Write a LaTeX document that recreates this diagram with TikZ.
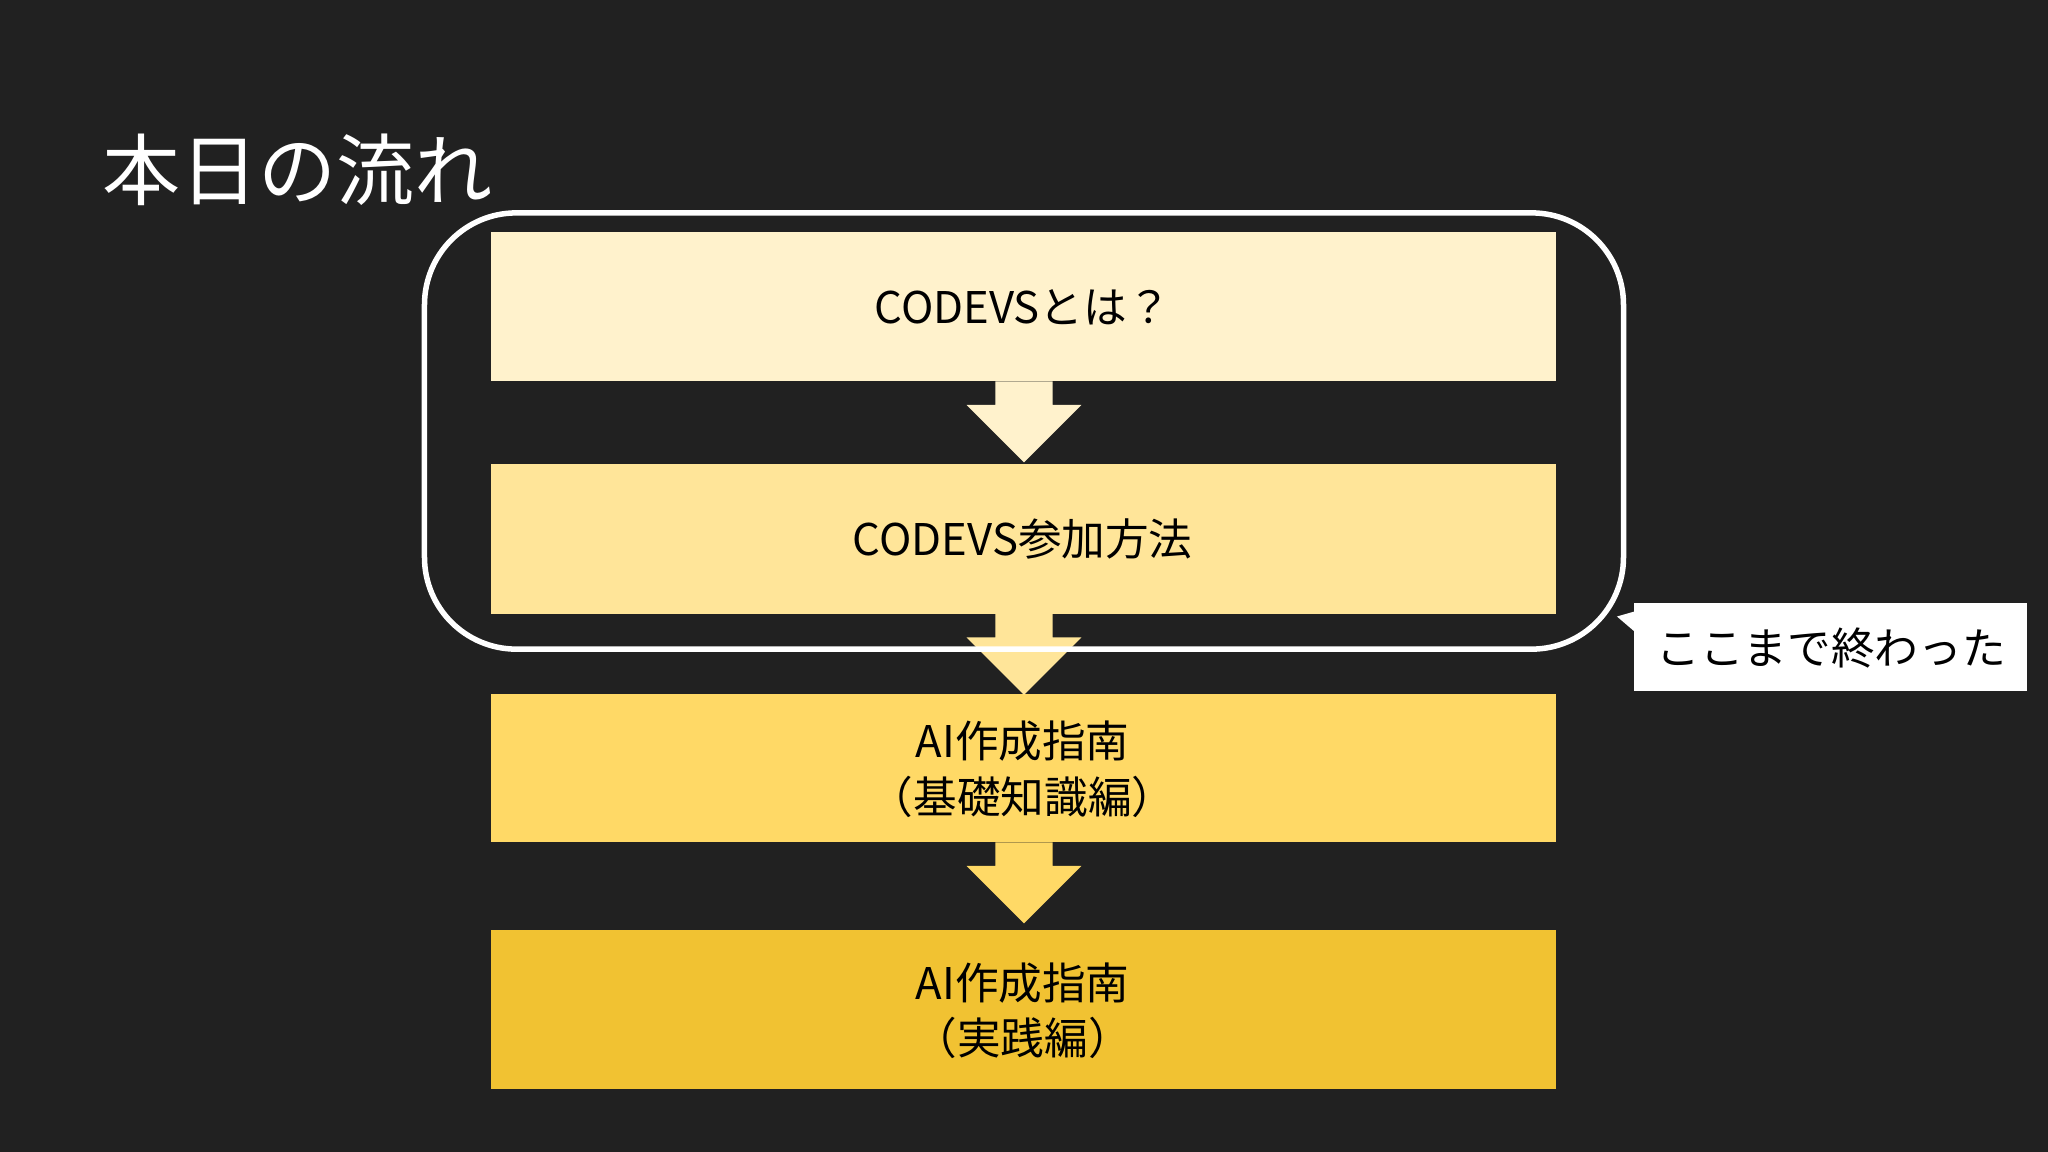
\documentclass[tikz,border=0pt]{standalone}
\usepackage{fontspec}
\setmainfont{Noto Sans CJK JP}
\begin{document}
\begin{tikzpicture}[x=0.01cm,y=-0.01cm]
\definecolor{bg}{HTML}{212121}
\definecolor{c1}{HTML}{FFF2CC}
\definecolor{c2}{HTML}{FFE599}
\definecolor{c3}{HTML}{FFD966}
\definecolor{c4}{HTML}{F1C232}
\tikzset{stepbox/.style={minimum width=815\pgflinewidth,inner sep=0pt,font=\fontsize{9.5}{12}\selectfont,align=center,text=black}}
\fill[bg] (0,0) rectangle (1568,882);
\useasboundingbox (0,0) rectangle (1568,882);
\node[anchor=west,text=white,font=\fontsize{17}{20}\selectfont] (title) at (66,130) {本日の流れ};
\fill[c1] (376,178) rectangle (1191,292);
\fill[c2] (376,355) rectangle (1191,470);
\fill[c3] (376,531) rectangle (1191,645);
\fill[c4] (376,712) rectangle (1191,834);
\node[font=\fontsize{9.5}{12}\selectfont] (b1) at (783,235) {CODEVSとは？};
\node[font=\fontsize{9.5}{12}\selectfont] (b2) at (783,413) {CODEVS参加方法};
\node[font=\fontsize{9.5}{12}\selectfont,align=center] (b3) at (783,589) {AI作成指南\\（基礎知識編）};
\node[font=\fontsize{9.5}{12}\selectfont,align=center] (b4) at (783,774) {AI作成指南\\（実践編）};
\foreach \t/\c in {292/c1,470/c2,645/c3}{
  \fill[\c] (762,\t) -- (806,\t) -- (806,\t+18) -- (828,\t+18) -- (784,\t+62) -- (740,\t+18) -- (762,\t+18) -- cycle;
}
\draw[white,line width=1.2pt,rounded corners=20] (325,163) rectangle (1243,497);
\fill[white] (1251,462) rectangle (1552,529);
\fill[white] (1252,468) -- (1238,472) -- (1252,484) -- cycle;
\node[font=\fontsize{9.5}{12}\selectfont,text=black] (call) at (1402,496) {ここまで終わった};
\end{tikzpicture}
\end{document}
